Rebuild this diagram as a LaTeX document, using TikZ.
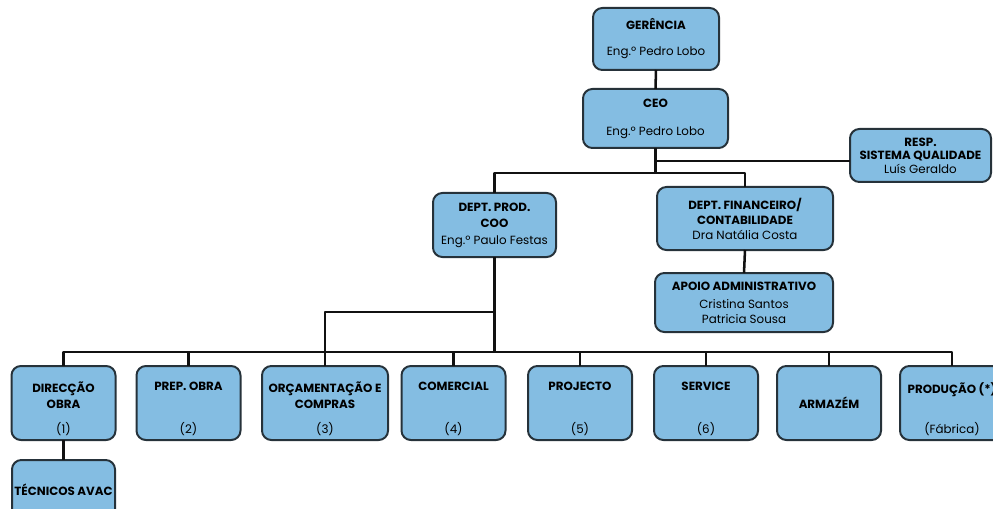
\documentclass[tikz,border=0pt]{standalone}
\usepackage{fontspec}
\setmainfont{Poppins}
\usetikzlibrary{positioning,calc}
\definecolor{cFill}{HTML}{84BDE2}
\definecolor{cEdge}{HTML}{26323A}
\definecolor{cLink}{HTML}{111111}

\begin{document}
\begin{tikzpicture}[
  x=0.75pt, y=0.75pt,
  font=\fontsize{8.9}{11}\selectfont,
  line join=round,
  link/.style={draw=cLink, line width=1.9pt},
  card/.style={draw=cEdge, line width=1.5pt, rounded corners=7pt,
    fill=cFill, inner sep=0pt, outer sep=0pt, align=center},
  unit/.style={card, minimum width=78pt, minimum height=55.5pt},
  headlab/.style={font=\bfseries\fontsize{8.9}{12}\selectfont,
    align=center, inner sep=0pt},
  numlab/.style={font=\fontsize{8.9}{10}\selectfont, inner sep=0pt},
]
\useasboundingbox (0,0) rectangle (993,508);
\clip (0,0) rectangle (993,508);

% ---- Bottom-row unit card: name, x, extra style, title, number ----
\newcommand{\unitcard}[5]{%
  \node[unit,#3] (#1) at (#2,105) {};
  \node[headlab, anchor=north] (#1Head) at ([yshift=-12pt]#1.north) {#4};
  \node[numlab, anchor=south] (#1Num) at ([yshift=3pt]#1.south) {#5};}

% ---- Top of the chart ----
\node[card, minimum width=94.5pt, minimum height=46.5pt] (ger) at (656,469)
  {\textbf{GERÊNCIA}\\[8.5pt]Eng.º Pedro Lobo};
\node[card, minimum width=108.75pt, minimum height=44.25pt] (ceo) at (655.5,389.5)
  {\textbf{CEO}\\[10pt]Eng.º Pedro Lobo};
\node[card, minimum width=105.75pt, minimum height=39.75pt,
  font=\fontsize{8.9}{10.2}\selectfont] (resp) at (920.5,352.5)
  {\textbf{RESP.}\\\textbf{SISTEMA QUALIDADE}\\Luís Geraldo};

% ---- Departments ----
\node[card, minimum width=92.25pt, minimum height=48pt,
  font=\fontsize{8.9}{12.4}\selectfont] (prod) at (494.5,283)
  {\textbf{DEPT. PROD.}\\\textbf{COO}\\Eng.º Paulo Festas};
\node[card, minimum width=132pt, minimum height=47.25pt,
  font=\fontsize{8.9}{11.2}\selectfont] (fin) at (745,289.5)
  {\textbf{DEPT. FINANCEIRO/}\\\textbf{CONTABILIDADE}\\Dra Natália Costa};
\node[card, minimum width=133.5pt, minimum height=44.25pt,
  font=\fontsize{8.9}{11.2}\selectfont] (apoio) at (744,205.5)
  {\textbf{APOIO ADMINISTRATIVO}\\[2.3pt]Cristina Santos\\Patricia Sousa};

% ---- Units (left -> right) ----
\unitcard{dir}{63.5}{}{DIRECÇÃO\\OBRA}{(1)}
\unitcard{prep}{188.5}{}{PREP. OBRA}{(2)}
\unitcard{orc}{325}{minimum width=94.5pt}{ORÇAMENTAÇÃO E\\COMPRAS}{(3)}
\unitcard{com}{453.5}{}{COMERCIAL}{(4)}
\unitcard{proj}{580}{}{PROJECTO}{(5)}
\unitcard{serv}{706}{}{SERVICE}{(6)}
\node[unit, font=\bfseries\fontsize{8.9}{10}\selectfont] (arm) at (829,105) {ARMAZÉM};
\unitcard{prodc}{952}{}{PRODUÇÃO (*)}{(Fábrica)}

\node[card, minimum width=77.25pt, minimum height=45pt,
  font=\bfseries\fontsize{8.9}{10}\selectfont] (tec) at (63.5,18) {TÉCNICOS AVAC};

% ---- Links ----
\coordinate (qTap) at (655.5,347);
\coordinate (deptTap) at (655.5,335);
\coordinate (busE) at (952,156);
\coordinate (loopTap) at (494.5,196);

\draw[link] (ger.south) -- (ceo.north);
\draw[link] (ceo.south) -- (deptTap);
\draw[link] (qTap) -- (qTap -| resp.west);
\draw[link] (prod.north) |- (deptTap) -| (fin.north);
\draw[link] (fin.south) -- (apoio.north);

\draw[link] (dir.north) |- (busE) -- (prodc.north);
\foreach \u in {prep,orc,com,proj,serv,arm}{
  \draw[link] (\u.north) -- (\u.north |- busE);
}
\draw[link] (prod.south) -- (prod.south |- busE);
\draw[link] (loopTap) -| (orc.north);
\draw[link] (dir.south) -- (tec.north);

\end{tikzpicture}
\end{document}
